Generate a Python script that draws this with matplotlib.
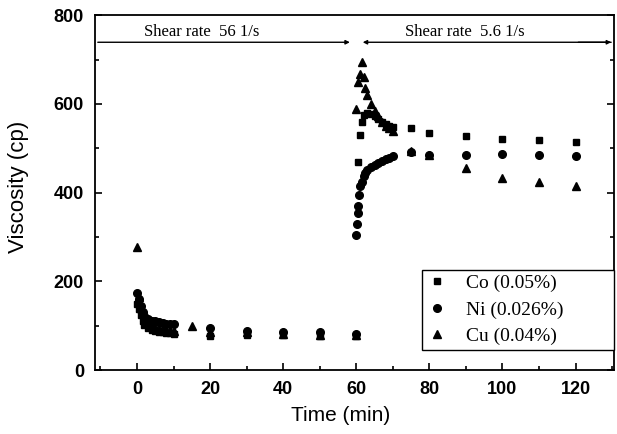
import numpy as np
import matplotlib.pyplot as plt
from matplotlib.ticker import MultipleLocator

# high shear stage (56 1/s), 0-60 min
t1_co = [0, 0.5, 1, 1.5, 2, 3, 4, 5, 6, 7, 8, 9, 10, 20, 30, 40, 50, 60]
co1 = [150, 138, 125, 112, 102, 95, 90, 88, 86, 85, 84, 83, 82, 78, 80, 80, 78, 78]
t1_ni = [0, 0.5, 1, 1.5, 2, 3, 4, 5, 6, 7, 8, 9, 10, 20, 30, 40, 50, 60]
ni1 = [175, 160, 145, 132, 122, 115, 112, 110, 108, 106, 105, 104, 103, 95, 88, 85, 85, 82]
t1_cu = [0, 0.5, 1, 2, 3, 4, 5, 6, 7, 8, 9, 10, 15, 20, 30, 40, 50, 60]
cu1 = [278, 165, 140, 120, 110, 102, 98, 95, 92, 90, 90, 88, 99, 85, 85, 82, 80, 80]

# low shear stage (5.6 1/s), 60-120 min
t2_co = [60.5, 61, 61.5, 62, 63, 64, 65, 66, 67, 68, 69, 70, 75, 80, 90, 100, 110, 120]
co2 = [470, 530, 560, 575, 580, 578, 572, 565, 560, 555, 550, 548, 545, 535, 527, 520, 518, 515]
t2_ni = [60, 60.2, 60.4, 60.6, 60.8, 61, 61.5, 62, 62.5, 63, 64, 65, 66, 67, 68, 69, 70,
         75, 80, 90, 100, 110, 120]
ni2 = [305, 330, 355, 370, 395, 415, 425, 437, 445, 452, 458, 463, 468, 472, 476, 479, 482,
       492, 486, 486, 487, 486, 482]
t2_cu = [60, 60.5, 61, 61.5, 62, 62.5, 63, 64, 65, 66, 67, 68, 69, 70, 75, 80, 90, 100, 110, 120]
cu2 = [588, 650, 668, 694, 660, 635, 620, 600, 585, 572, 560, 550, 545, 538, 495, 485, 455,
       432, 424, 415]

labels = ['Co (0.05%)', 'Ni (0.026%)', 'Cu (0.04%)']

fig = plt.figure(figsize=(6.17, 4.34), dpi=100)
ax = fig.add_axes([0.154, 0.147, 0.841, 0.818])

ms = 5.5
ax.plot(t1_co + t2_co, co1 + co2, 's', color='black', ms=ms - 0.5, label=labels[0])
ax.plot(t1_ni + t2_ni, ni1 + ni2, 'o', color='black', ms=ms, label=labels[1])
ax.plot(t1_cu + t2_cu, cu1 + cu2, '^', color='black', ms=ms, label=labels[2])

ax.set_xlim(-11.5, 130.5)
ax.set_ylim(0, 800)
ax.xaxis.set_major_locator(MultipleLocator(20))
ax.xaxis.set_minor_locator(MultipleLocator(10))
ax.yaxis.set_major_locator(MultipleLocator(200))
ax.yaxis.set_minor_locator(MultipleLocator(100))
ax.tick_params(which='both', direction='in', top=False, right=True, width=1.2)
ax.tick_params(which='major', length=5, labelsize=13, pad=8)
ax.tick_params(which='minor', length=3)
for lab in ax.get_xticklabels() + ax.get_yticklabels():
    lab.set_family('Liberation Sans')
    lab.set_fontweight('bold')
for sp in ax.spines.values():
    sp.set_linewidth(1.3)

ax.set_xlabel('Time (min)', family='Liberation Sans', fontsize=15)
ax.set_ylabel('Viscosity (cp)', family='Liberation Sans', fontsize=16)
ax.xaxis.set_label_coords(0.474, -0.10)
ax.yaxis.set_label_coords(-0.128, 0.515)

# shear stage markers
yl = 739
ax.annotate('', xy=(59, yl), xytext=(-11.5, yl),
            arrowprops=dict(arrowstyle='-|>', color='black', lw=1, mutation_scale=6))
ax.annotate('', xy=(61, yl), xytext=(130.5, yl),
            arrowprops=dict(arrowstyle='-|>', color='black', lw=1, mutation_scale=6))
ax.annotate('', xy=(130.5, yl), xytext=(120, yl),
            arrowprops=dict(arrowstyle='-|>', color='black', lw=1, mutation_scale=6))
ax.text(17.7, 745, 'Shear rate  56 1/s', family='Liberation Serif', fontsize=12,
        ha='center', va='bottom')
ax.text(89.8, 745, 'Shear rate  5.6 1/s', family='Liberation Serif', fontsize=12,
        ha='center', va='bottom')

leg = ax.legend(loc='upper right', bbox_to_anchor=(0.63, 0.054, 0.37, 0.229),
                mode='expand', borderaxespad=0,
                prop={'family': 'Liberation Serif', 'size': 14}, fancybox=False,
                edgecolor='black', framealpha=1, handletextpad=1.0, labelspacing=0.45,
                handlelength=1.0, borderpad=0.25)
leg.get_frame().set_linewidth(1)

fig.savefig('out.png', dpi=100)
